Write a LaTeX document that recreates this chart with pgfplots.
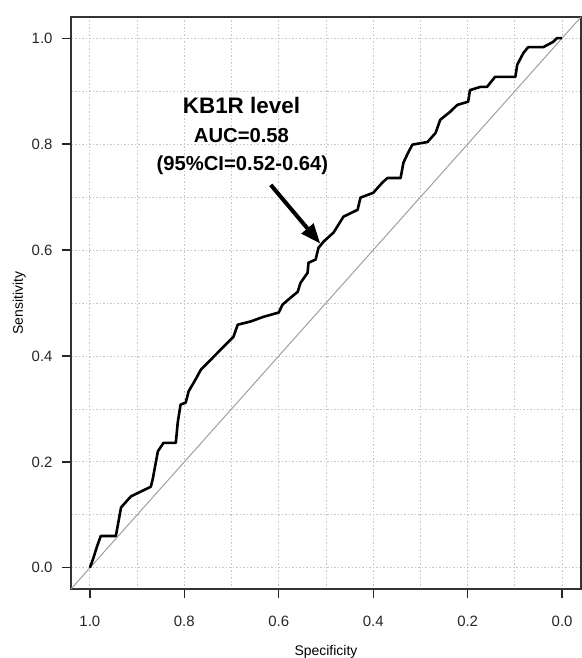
\documentclass[border=0pt]{standalone}
\usepackage{fontspec}
\setmainfont{Liberation Sans}
\usepackage{pgfplots}
\pgfplotsset{compat=1.18}
\usetikzlibrary{arrows.meta}

\begin{document}
\begin{tikzpicture}
\begin{axis}[
    name=ax,
    scale only axis,
    width=510bp, height=572bp,
    x dir=reverse,
    xmin=-0.04, xmax=1.04,
    ymin=-0.04, ymax=1.04,
    xtick={0,0.2,0.4,0.6,0.8,1},
    ytick={0,0.2,0.4,0.6,0.8,1},
    minor tick num=1,
    grid=both,
    grid style={gray!45, line width=0.8bp, dash pattern=on 1.5bp off 2bp},
    minor grid style={gray!45, line width=0.8bp, dash pattern=on 1.5bp off 2bp},
    major tick length=9bp, minor tick length=0pt,
    tick align=outside,
    xtick pos=bottom, ytick pos=left,
    major tick style={black!85, line width=1.3bp},
    axis line style={black!80, line width=1.5bp},
    /pgf/number format/fixed,
    /pgf/number format/fixed zerofill,
    /pgf/number format/precision=1,
    /pgf/number format/assume math mode=true,
    tick label style={font=\fontsize{15}{17}\selectfont, black!85},
    xticklabel style={yshift=-15bp},
    yticklabel style={xshift=-6bp},
    xlabel={Specificity},
    ylabel={Sensitivity},
    every axis x label/.style={at={([yshift=-66bp]axis description cs:0.5,0)}, anchor=base, font=\fontsize{14}{16}\selectfont},
    every axis y label/.style={at={([xshift=-48bp]axis description cs:0,0.5)}, rotate=90, anchor=base, font=\fontsize{14}{16}\selectfont},
]
% chance line
\addplot[gray!75, line width=1bp] coordinates {(1.04,-0.04) (-0.04,1.04)};
% ROC curve
\addplot[black, line width=2.6bp, line join=round] coordinates {
    (1.000,0.000) (0.992,0.020) (0.985,0.040) (0.977,0.060) (0.945,0.060)
    (0.934,0.114) (0.913,0.135) (0.892,0.144) (0.871,0.153) (0.867,0.167)
    (0.856,0.220) (0.844,0.236) (0.818,0.236) (0.814,0.274) (0.808,0.308)
    (0.797,0.312) (0.791,0.333) (0.776,0.356) (0.765,0.374) (0.723,0.412)
    (0.696,0.436) (0.687,0.459) (0.660,0.465) (0.632,0.474) (0.600,0.482)
    (0.592,0.497) (0.575,0.510) (0.560,0.521) (0.554,0.538) (0.539,0.557)
    (0.537,0.576) (0.522,0.582) (0.516,0.604) (0.505,0.616) (0.484,0.633)
    (0.463,0.663) (0.433,0.676) (0.427,0.699) (0.400,0.708) (0.381,0.727)
    (0.370,0.736) (0.342,0.736) (0.336,0.765) (0.326,0.784) (0.317,0.799)
    (0.285,0.804) (0.268,0.821) (0.258,0.846) (0.237,0.861) (0.222,0.874)
    (0.199,0.880) (0.195,0.902) (0.173,0.908) (0.159,0.908) (0.142,0.927)
    (0.099,0.927) (0.095,0.950) (0.082,0.972) (0.072,0.983) (0.040,0.983)
    (0.019,0.993) (0.011,1.000) (0.000,1.000)
};
% annotation
\draw[-{Triangle[length=20bp,width=15bp]}, line width=4bp, black]
    (axis cs:0.617,0.723) -- (axis cs:0.512,0.612);
\node[anchor=base, font=\bfseries\fontsize{22.5}{25}\selectfont] at (axis cs:0.679,0.857) {KB1R level};
\node[anchor=base, font=\bfseries\fontsize{20.3}{23}\selectfont] at (axis cs:0.679,0.8025) {AUC=0.58};
\node[anchor=base, font=\bfseries\fontsize{20.3}{23}\selectfont] at (axis cs:0.677,0.750) {(95\%CI=0.52-0.64)};
\end{axis}
\pgfresetboundingbox
\path[use as bounding box] ([xshift=-71bp,yshift=-69bp]ax.south west) rectangle ([xshift=1bp,yshift=17bp]ax.north east);
\end{tikzpicture}
\end{document}
